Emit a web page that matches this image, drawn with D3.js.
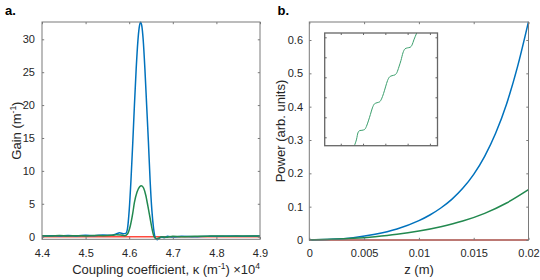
<!DOCTYPE html>
<html>
<head>
<meta charset="utf-8">
<script src="https://cdn.jsdelivr.net/npm/d3@7"></script>
<style>
  body { margin: 0; background: #fff; }
  text { font-family: "Liberation Sans", Arial, sans-serif; }
</style>
</head>
<body>
<svg id="chart" width="540" height="280"></svg>
<script>
// ---- panel a: gain vs coupling coefficient (kappa in units of 1e4 m^-1)
const kappaBlue = [4.40, 4.42, 4.44, 4.46, 4.48, 4.50, 4.52, 4.54, 4.56, 4.57, 4.578, 4.586, 4.592, 4.596,
  4.600, 4.604, 4.608, 4.612, 4.616, 4.620, 4.623, 4.626, 4.629, 4.632, 4.636, 4.640, 4.644, 4.648,
  4.652, 4.656, 4.660, 4.664, 4.668, 4.674, 4.680, 4.688, 4.70, 4.72, 4.75, 4.78, 4.80, 4.83, 4.86, 4.90];
const gainBlue = [0.12, 0.15, 0.10, 0.18, 0.12, 0.20, 0.15, 0.25, 0.20, 0.40, 0.60, 0.45, 0.50, 1.2,
  4.0, 8.5, 14, 20, 25.5, 29.8, 31.8, 32.6, 32.0, 30.0, 25.5, 20, 14.5, 8.5,
  4.0, 1.2, -0.2, -0.45, -0.3, -0.05, -0.15, 0.05, -0.05, 0.05, 0.0, 0.08, 0.05, 0.10, 0.08, 0.10];

const kappaGreen = [4.40, 4.42, 4.44, 4.46, 4.48, 4.50, 4.52, 4.54, 4.56, 4.57, 4.58, 4.59, 4.596, 4.602,
  4.608, 4.612, 4.618, 4.624, 4.628, 4.633, 4.638, 4.643, 4.648, 4.653, 4.657, 4.662, 4.668, 4.675,
  4.685, 4.70, 4.72, 4.75, 4.78, 4.80, 4.83, 4.86, 4.90];
const gainGreen = [0.15, 0.12, 0.18, 0.12, 0.15, 0.10, 0.18, 0.15, 0.20, 0.30, 0.25, 0.15, 0.40, 1.5,
  3.5, 5.2, 6.8, 7.6, 7.75, 7.4, 6.3, 4.6, 2.8, 1.0, 0.0, -0.3, -0.2, 0.0,
  -0.1, 0.05, 0.0, 0.05, 0.08, 0.10, 0.08, 0.10, 0.12];

const kappaRed = [4.40, 4.90];
const gainRed = [0, 0];

const kappaTicks = [4.4, 4.5, 4.6, 4.7, 4.8, 4.9];
const gainTicks = [0, 5, 10, 15, 20, 25, 30];

// ---- panel b: power vs z
const zBlue = [0, 0.002, 0.004, 0.006, 0.008, 0.010, 0.011, 0.012, 0.013, 0.014, 0.015, 0.016, 0.017, 0.018, 0.019, 0.020];
const powerBlue = [0, 0.002, 0.007, 0.017, 0.033, 0.058, 0.075, 0.096, 0.122, 0.155, 0.197, 0.251, 0.320, 0.408, 0.520, 0.655];

const zGreen = [0, 0.002, 0.004, 0.006, 0.008, 0.010, 0.012, 0.014, 0.016, 0.018, 0.020];
const powerGreen = [0, 0.002, 0.005, 0.010, 0.017, 0.027, 0.040, 0.057, 0.080, 0.111, 0.151];

const zRed = [0, 0.020];
const powerRed = [0, 0];

const zTicks = [0, 0.005, 0.01, 0.015, 0.02];
const zTickLabels = ["0", "0.005", "0.01", "0.015", "0.02"];
const powerTicks = [0, 0.1, 0.2, 0.3, 0.4, 0.5, 0.6];

// ---- inset (zoom on the green curve, unlabelled axes)
const insetX = [0.61, 0.71, 0.77, 0.86, 0.95, 1.07, 1.15, 1.24, 1.33, 1.42, 1.51, 1.63, 1.74, 1.83, 1.92,
  2.01, 2.10, 2.19, 2.30, 2.43, 2.52, 2.61, 2.70, 2.79, 2.88, 2.99, 3.11, 3.20, 3.28, 3.41];
const insetY = [-0.42, -0.09, 0.22, 0.34, 0.35, 0.39, 0.54, 0.82, 1.14, 1.47, 1.67, 1.73, 1.77, 1.92, 2.19,
  2.52, 2.84, 3.02, 3.08, 3.12, 3.24, 3.52, 3.84, 4.22, 4.42, 4.47, 4.50, 4.62, 4.87, 5.22];
const insetXTicks = [0, 1, 2, 3, 4];
const insetYTicks = [0, 1, 2, 3, 4, 5];

const axisColor = "#7a7a7a";
const textColor = "#262626";
const blue = "#0072bd", green = "#22894f", red = "#ff4b3e";

const svg = d3.select("#chart");

// box + inward ticks on all four sides, labels on bottom/left
function frame(g, x, y, opt) {
  const [x0, x1] = x.range();
  const [y0, y1] = y.range();
  const tl = opt.tickLen;

  const bottom = g.append("g").attr("transform", `translate(0,${y0})`)
    .call(d3.axisBottom(x).tickValues(opt.xTicks).tickSize(-tl).tickPadding(opt.padX)
      .tickFormat(opt.xFmt || (() => "")));
  const top = g.append("g").attr("transform", `translate(0,${y1})`)
    .call(d3.axisTop(x).tickValues(opt.xTicks).tickSize(-tl).tickFormat(""));
  const left = g.append("g").attr("transform", `translate(${x0},0)`)
    .call(d3.axisLeft(y).tickValues(opt.yTicks).tickSize(-tl).tickPadding(opt.padY)
      .tickFormat(opt.yFmt || (() => "")));
  const right = g.append("g").attr("transform", `translate(${x1},0)`)
    .call(d3.axisRight(y).tickValues(opt.yTicks).tickSize(-tl).tickFormat(""));

  [bottom, top, left, right].forEach(a => {
    a.select(".domain").remove();
    a.selectAll("line").attr("stroke", opt.color).attr("stroke-width", 1);
    a.selectAll("text").attr("fill", textColor).style("font-size", "11px")
      .style("font-family", '"Liberation Sans", Arial, sans-serif');
  });

  g.append("rect")
    .attr("x", x0).attr("y", y1)
    .attr("width", x1 - x0).attr("height", y0 - y1)
    .attr("fill", "none").attr("stroke", opt.color).attr("stroke-width", opt.boxWidth || 1);
}

function drawLine(g, x, y, xs, ys, color, width, clip) {
  const pts = xs.map((v, i) => [v, ys[i]]);
  g.append("path")
    .datum(pts)
    .attr("clip-path", clip ? `url(#${clip})` : null)
    .attr("fill", "none")
    .attr("stroke", color)
    .attr("stroke-width", width)
    .attr("stroke-linejoin", "round")
    .attr("d", d3.line().x(d => x(d[0])).y(d => y(d[1])).curve(d3.curveMonotoneX));
}

function addClip(id, x, y) {
  const [x0, x1] = x.range();
  const [y0, y1] = y.range();
  svg.append("clipPath").attr("id", id).append("rect")
    .attr("x", x0).attr("y", y1 - 2).attr("width", x1 - x0).attr("height", y0 - y1 + 4);
}

// ================= panel a =================
const xA = d3.scaleLinear().domain([4.4, 4.9]).range([42, 260]);
const yA = d3.scaleLinear().domain([-0.4, 32.63]).range([239.3, 22]);
addClip("clipA", xA, yA);
const gA = svg.append("g");

drawLine(gA, xA, yA, kappaRed, gainRed, red, 1.5, "clipA");
drawLine(gA, xA, yA, kappaBlue, gainBlue, blue, 1.5, "clipA");
drawLine(gA, xA, yA, kappaGreen, gainGreen, green, 1.5, "clipA");

frame(gA, xA, yA, {
  xTicks: kappaTicks, yTicks: gainTicks, tickLen: 2.2, padX: 9.5, padY: 7,
  xFmt: d3.format(".1f"), yFmt: d3.format("d"), color: axisColor
});

// axis labels a
const xlabA = gA.append("text").attr("x", 151).attr("y", 274)
  .attr("text-anchor", "middle").attr("fill", textColor).style("font-size", "13px");
xlabA.append("tspan").text("Coupling coefficient, \u03ba (m");
xlabA.append("tspan").attr("dy", -5).style("font-size", "8.5px").text("-1");
xlabA.append("tspan").attr("dy", 5).text(")");

const expA = gA.append("text").attr("x", 260).attr("y", 274)
  .attr("text-anchor", "end").attr("fill", textColor).style("font-size", "13px");
expA.append("tspan").text("\u00d710");
expA.append("tspan").attr("dy", -5).style("font-size", "8.5px").text("4");

const ylabA = gA.append("text")
  .attr("transform", "translate(20.5,130.6) rotate(-90)")
  .attr("text-anchor", "middle").attr("fill", textColor).style("font-size", "13px");
ylabA.append("tspan").text("Gain (m");
ylabA.append("tspan").attr("dy", -5).style("font-size", "8.5px").text("-1");
ylabA.append("tspan").attr("dy", 5).text(")");

svg.append("text").attr("x", 5).attr("y", 15).attr("fill", "#000")
  .style("font-size", "13px").style("font-weight", "bold").text("a.");

// ================= panel b =================
const xB = d3.scaleLinear().domain([0, 0.02]).range([309.3, 528.5]);
const yB = d3.scaleLinear().domain([0, 0.654]).range([240, 22]);
addClip("clipB", xB, yB);
const gB = svg.append("g");

drawLine(gB, xB, yB, zRed, powerRed, red, 1.6, "clipB");
drawLine(gB, xB, yB, zBlue, powerBlue, blue, 1.5, "clipB");
drawLine(gB, xB, yB, zGreen, powerGreen, green, 1.5, "clipB");

frame(gB, xB, yB, {
  xTicks: zTicks, yTicks: powerTicks, tickLen: 2.2, padX: 9, padY: 6.3,
  xFmt: (d, i) => zTickLabels[i], yFmt: d => d === 0 ? "0" : d3.format(".1f")(d), color: axisColor
});

gB.append("text").attr("x", 419).attr("y", 274)
  .attr("text-anchor", "middle").attr("fill", textColor).style("font-size", "13px")
  .text("z (m)");

gB.append("text")
  .attr("transform", "translate(284.5,131) rotate(-90)")
  .attr("text-anchor", "middle").attr("fill", textColor).style("font-size", "13px")
  .text("Power (arb. units)");

svg.append("text").attr("x", 277.5).attr("y", 15).attr("fill", "#000")
  .style("font-size", "13px").style("font-weight", "bold").text("b.");

// ================= inset =================
const xI = d3.scaleLinear().domain([-0.72, 4.34]).range([324.7, 437.5]);
const yI = d3.scaleLinear().domain([-0.42, 5.215]).range([145.7, 33]);
const gI = svg.append("g");
gI.append("rect")
  .attr("x", 324.7).attr("y", 33).attr("width", 437.5 - 324.7).attr("height", 145.7 - 33)
  .attr("fill", "#fff");
addClip("clipI", xI, yI);
drawLine(gI, xI, yI, insetX, insetY, "#3a9e6c", 1, "clipI");
frame(gI, xI, yI, {
  xTicks: insetXTicks, yTicks: insetYTicks, tickLen: 2, padX: 3, padY: 3,
  color: "#666", boxWidth: 1.3
});
</script>
</body>
</html>
